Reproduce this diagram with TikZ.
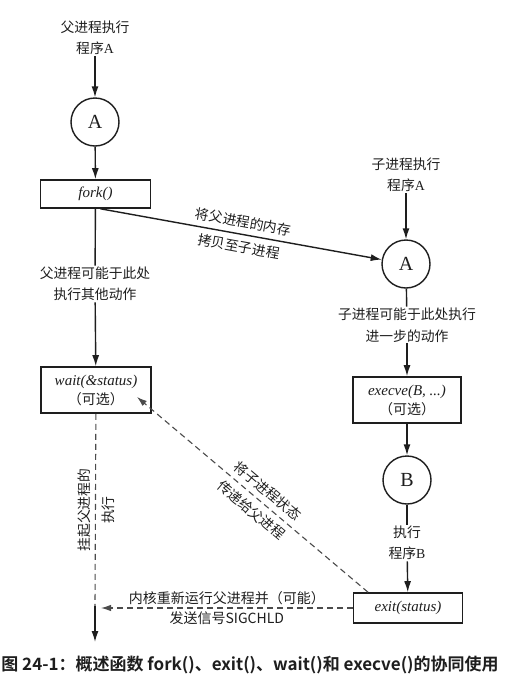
\documentclass[tikz,border=0pt]{standalone}
\usepackage{fontspec}
\setmainfont{Liberation Serif}
\newfontfamily\zhfont{Noto Sans CJK SC}
\newfontfamily\zhbold{Noto Sans CJK SC Bold}
\usetikzlibrary{arrows.meta}
\definecolor{ink}{HTML}{1E1E1E}
\begin{document}
\begin{tikzpicture}[x=1pt,y=-1pt,
  color=ink,
  txt/.style={align=center, font=\zhfont\fontsize{13.8}{21.5}\selectfont, inner sep=1pt, text=ink},
  slopetxt/.style={txt, font=\zhfont\fontsize{13.8}{25}\selectfont},
  circ/.style={circle, draw=ink, line width=1.4pt, minimum size=48pt, inner sep=0pt, font=\fontsize{20}{20}\selectfont},
  fbox/.style={draw=ink, line width=1.6pt, minimum width=110pt, inner sep=2pt, align=center, font=\fontsize{15}{21}\selectfont},
  arr/.style={-{Latex[length=11pt,width=7pt]}, line width=1.4pt, draw=ink},
  plain/.style={line width=1.4pt, draw=ink},
  dsh/.style={dash pattern=on 6pt off 4pt, line width=1.1pt, draw=ink!80},
  dsharr/.style={dsh, -{Latex[length=10pt,width=6.5pt]}}
]
\useasboundingbox (0,0) rectangle (512,686);
\fill[white] (0,0) rectangle (512,686);

% left column
\node[txt] (ptxt) at (95,38) {父进程执行\\程序{\rmfamily A}};
\node[circ] (A1) at (95,122) {A};
\node[fbox, minimum height=28pt] (fork) at (95.5,194) {\itshape fork()};
\node[txt] (plabel) at (95,284) {父进程可能于此处\\执行其他动作};
\node[fbox, minimum height=46pt] (wait) at (96,390) {\itshape wait(\&status)\\[-2pt]{\zhfont\fontsize{14}{16}\selectfont （可选）}};
\coordinate (pmid) at (95,606);
\coordinate (pend) at (95,642);
\node[txt, rotate=90, font=\zhfont\fontsize{13.8}{24}\selectfont] (susp) at (96,510) {挂起父进程的\\执行};

% right column
\node[txt] (ctxt) at (406,175) {子进程执行\\程序{\rmfamily A}};
\node[circ] (A2) at (406,264) {A};
\node[txt] (clabel) at (407,325) {子进程可能于此处执行\\进一步的动作};
\node[fbox, minimum height=46pt, minimum width=108pt] (execve) at (407,400) {\itshape execve(B, ...)\\[-2pt]{\zhfont\fontsize{14}{16}\selectfont （可选）}};
\node[circ] (B) at (407,480) {B};
\node[txt] (btxt) at (407,543) {执行\\程序{\rmfamily B}};
\node[fbox, minimum height=30pt, minimum width=109pt] (exit) at (408,608) {\itshape exit(status)};

% connectors left
\draw[arr] (ptxt) -- (A1);
\draw[arr] (A1) -- (fork);
\draw[plain] (fork) -- (plabel);
\draw[arr] (plabel) -- (wait);
\draw[dsh] (wait) -- (pmid);
\draw[arr] (pmid) -- (pend);

% fork -> child
\draw[arr] ([xshift=5pt]fork.south) -- (A2)
  node[slopetxt, pos=0.5, sloped] (copylbl) {将父进程的内存\\拷贝至子进程};

% connectors right
\draw[arr] (ctxt) -- (A2);
\draw[plain] (A2) -- (clabel);
\draw[arr] (clabel) -- (execve);
\draw[arr] (execve) -- (B);
\draw[plain] (B) -- (btxt);
\draw[arr] (btxt) -- (exit);

% exit -> wait (status)
\coordinate (wtip) at ([xshift=41pt,yshift=-7pt]wait.center);
\draw[dsharr] ([xshift=-40pt]exit.north) -- (wtip)
  node[slopetxt, pos=0.47, sloped] (statlbl) {将子进程状态\\传递给父进程};

% exit -> parent (kernel)
\coordinate (ktip) at (101,608);
\draw[dsharr] (exit.west) -- (ktip)
  node[txt, pos=0.5, font=\zhfont\fontsize{14}{20}\selectfont] (klbl) {内核重新运行父进程并（可能）\\发送信号SIGCHLD};

% caption
\node[font=\zhbold\fontsize{17}{20}\selectfont, inner sep=0pt, text=ink] (cap) at (250,665) {图 24-1：概述函数 fork()、exit()、wait()和 execve()的协同使用};
\end{tikzpicture}
\end{document}
